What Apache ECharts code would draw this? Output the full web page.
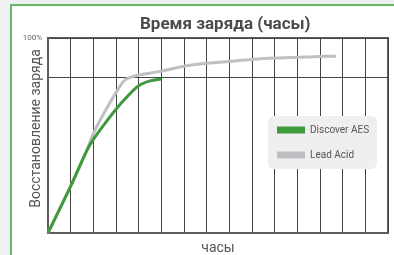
<!DOCTYPE html>
<html>
<head>
<meta charset="utf-8">
<script src="https://cdn.jsdelivr.net/npm/echarts@6/dist/echarts.min.js"></script>
<style>
  html, body { margin: 0; padding: 0; background: #eff0f2; }
  #main { width: 394px; height: 255px; }
</style>
</head>
<body>
<div id="main"></div>
<script>
// hours and charge recovery (%)
const aesHours = [0, 1, 1.7, 2, 2.5, 3, 3.5, 4, 4.5, 5];
const aesCharge = [0, 24, 42, 48, 56, 63.5, 70, 75.5, 78, 79];
const leadHours = [0, 1, 1.7, 2, 2.5, 3, 3.4, 4, 5, 6, 7, 8, 9, 10, 11, 12, 12.7];
const leadCharge = [0, 24, 42, 51, 62, 72, 78.5, 81, 83, 85.5, 87, 88, 89, 89.7, 90.1, 90.5, 90.7];

const seriesNames = ["Discover AES", "Lead Acid"];

function pairs(xs, ys) {
  return xs.map((x, i) => [x, ys[i]]);
}

let chartDom = document.getElementById("main");
let myChart = echarts.init(chartDom);
let option;

option = {
  animation: false,
  backgroundColor: "transparent",
  graphic: [
    {
      type: "rect",
      z: -10,
      shape: { x: 11, y: 5, width: 400, height: 270 },
      style: { fill: "#fff", stroke: "#67b567", lineWidth: 2 },
    },
  ],
  title: {
    text: "Время заряда (часы)",
    left: 135,
    top: 11,
    textStyle: {
      fontFamily: "Roboto",
      fontSize: 17,
      fontWeight: "bold",
      color: "#4b4b4d",
    },
  },
  grid: {
    left: 48,
    right: 6,
    top: 38,
    bottom: 22,
    outerBoundsMode: "none",
    containLabel: false,
    show: true,
    borderColor: "#5e5e60",
    borderWidth: 2,
    backgroundColor: "#fff",
  },
  legend: {
    data: seriesNames,
    orient: "vertical",
    left: 268,
    top: 116,
    width: 110,
    padding: [9, 8, 9, 9],
    itemWidth: 28,
    itemHeight: 7,
    itemGap: 15,
    icon: "rect",
    backgroundColor: "#efefef",
    borderRadius: 6,
    textStyle: { fontFamily: "Roboto", fontSize: 10, color: "#555" },
  },
  xAxis: {
    type: "value",
    min: 0,
    max: 15,
    interval: 1,
    name: "часы",
    nameLocation: "middle",
    nameGap: 8,
    nameMoveOverlap: false,
    nameTextStyle: { fontFamily: "Roboto", fontSize: 14, color: "#555" },
    axisLine: { show: true, lineStyle: { color: "#5e5e60", width: 2 } },
    axisTick: { show: false },
    axisLabel: { show: false },
    splitLine: { show: true, lineStyle: { color: "#444", width: 1 } },
  },
  yAxis: {
    type: "value",
    min: 0,
    max: 100,
    interval: 80,
    name: "Восстановление заряда",
    nameLocation: "middle",
    nameRotate: 90,
    nameGap: 5,
    nameMoveOverlap: false,
    nameTextStyle: {
      fontFamily: "Roboto",
      fontSize: 14,
      color: "#555",
      padding: [0, 0, 0, 14],
    },
    axisLine: { show: true, lineStyle: { color: "#5e5e60", width: 2 } },
    axisTick: { show: false },
    axisLabel: {
      fontFamily: "Roboto",
      fontSize: 8,
      color: "#666",
      margin: 6,
      formatter: (v) => (v === 100 ? "100%" : ""),
    },
    splitLine: { show: true, lineStyle: { color: "#444", width: 1 } },
  },
  series: [
    {
      name: "Lead Acid",
      type: "line",
      smooth: 0.3,
      symbol: "none",
      z: 2,
      color: "#c0c0c4",
      lineStyle: { width: 3, color: "#c0c0c4" },
      data: pairs(leadHours, leadCharge),
    },
    {
      name: "Discover AES",
      type: "line",
      smooth: 0.3,
      symbol: "none",
      z: 3,
      color: "#3d9a3d",
      lineStyle: { width: 3, color: "#3d9a3d" },
      data: pairs(aesHours, aesCharge),
    },
  ],
};
option && myChart.setOption(option);
</script>
</body>
</html>
